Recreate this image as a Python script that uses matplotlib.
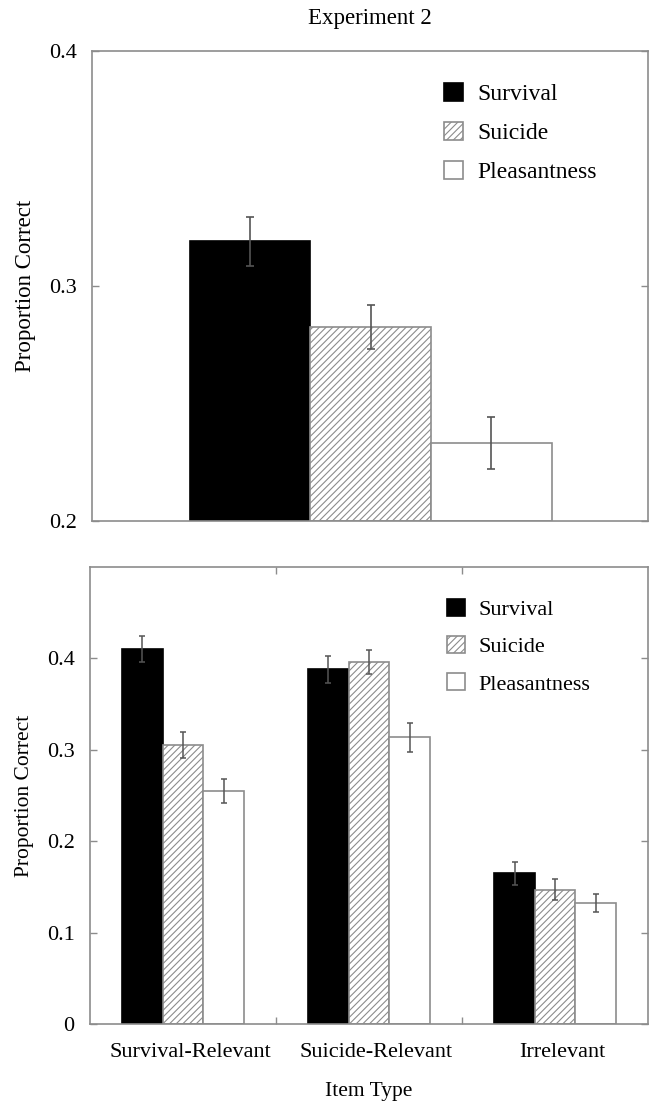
import matplotlib
matplotlib.use("Agg")
import matplotlib.pyplot as plt
import numpy as np

# ---- data ----
conditions = ["Survival", "Suicide", "Pleasantness"]
exp2_means = [0.319, 0.2826, 0.2331]
exp2_err = [0.0105, 0.0095, 0.011]

item_types = ["Survival-Relevant", "Suicide-Relevant", "Irrelevant"]
survival_means = [0.410, 0.388, 0.165]
survival_err = [0.014, 0.0145, 0.0125]
suicide_means = [0.3055, 0.396, 0.147]
suicide_err = [0.014, 0.013, 0.0115]
pleas_means = [0.255, 0.3135, 0.1326]
pleas_err = [0.0135, 0.016, 0.0098]

top_yticks = [0.2, 0.3, 0.4]
top_yticklabels = ["0.2", "0.3", "0.4"]
bot_yticks = [0, 0.1, 0.2, 0.3, 0.4]
bot_yticklabels = ["0", "0.1", "0.2", "0.3", "0.4"]

# ---- styles ----
FONT = "Liberation Serif"
plt.rcParams["font.family"] = [FONT, "DejaVu Serif"]
plt.rcParams["hatch.linewidth"] = 0.8
SPINE = "#8c8c8c"
EDGE = "#8c8c8c"
ERR = "#555555"
styles = [
    dict(facecolor="black", edgecolor="black", hatch=None),
    dict(facecolor="white", edgecolor=EDGE, hatch="/////"),
    dict(facecolor="white", edgecolor=EDGE, hatch=None),
]

fig = plt.figure(figsize=(6.52, 11.02), dpi=100)
ax1 = fig.add_axes([0.141, 0.527, 0.853, 0.427])
ax2 = fig.add_axes([0.138, 0.0708, 0.856, 0.4147])

def style_axes(ax):
    for s in ax.spines.values():
        s.set_color(SPINE)
        s.set_linewidth(1.2)
    ax.tick_params(axis="y", direction="in", length=5, width=1, color=SPINE,
                   left=True, right=True, labelsize=16, pad=11)

# ---- top panel ----
x1 = np.arange(len(conditions))
bars_top = []
for i, (m, e) in enumerate(zip(exp2_means, exp2_err)):
    st = styles[i]
    b = ax1.bar(x1[i], m - 0.2, bottom=0.2, width=1.0, facecolor=st["facecolor"],
                edgecolor=st["edgecolor"], hatch=st["hatch"], linewidth=1.2,
                label=conditions[i], zorder=2)
    ax1.errorbar(x1[i], m, yerr=e, fmt="none", ecolor=ERR, elinewidth=1.2,
                 capsize=3, capthick=1.2, zorder=3)
    bars_top.append(b)
ax1.set_xlim(-1.31, 3.30)
ax1.set_ylim(0.2, 0.4)
ax1.set_yticks(top_yticks)
ax1.set_yticklabels(top_yticklabels)
ax1.set_xticks([])
style_axes(ax1)
ax1.set_ylabel("Proportion Correct", fontsize=16.5, labelpad=9)
ax1.set_title("Experiment 2", fontsize=16.5, pad=19)
ax1.legend(handles=bars_top, loc="upper left", bbox_to_anchor=(0.633, 0.932),
           frameon=False, fontsize=17, handlelength=0.8, handleheight=0.8,
           handletextpad=0.6, labelspacing=0.72, borderaxespad=0, borderpad=0)

# ---- bottom panel ----
x2 = np.arange(len(item_types)) + 0.5
w = 0.218
series = [(survival_means, survival_err), (suicide_means, suicide_err),
          (pleas_means, pleas_err)]
bars_bot = []
for i, (means, errs) in enumerate(series):
    st = styles[i]
    pos = x2 + (i - 1) * w
    b = ax2.bar(pos, means, width=w, facecolor=st["facecolor"],
                edgecolor=st["edgecolor"], hatch=st["hatch"], linewidth=1.2,
                label=conditions[i], zorder=2)
    ax2.errorbar(pos, means, yerr=errs, fmt="none", ecolor=ERR, elinewidth=1.1,
                 capsize=2.5, capthick=1.1, zorder=3)
    bars_bot.append(b)
ax2.set_xlim(0, 3)
ax2.set_ylim(0, 0.5)
ax2.set_yticks(bot_yticks)
ax2.set_yticklabels(bot_yticklabels)
ax2.set_xticks([1, 2])
ax2.set_xticklabels([])
ax2.set_xticks(x2 + 0.04, minor=True)
ax2.set_xticklabels(item_types, minor=True)
ax2.tick_params(axis="x", which="major", direction="in", length=5, width=1,
                color=SPINE, top=True, bottom=True)
ax2.tick_params(axis="x", which="minor", length=0, labelsize=16, pad=14)
style_axes(ax2)
ax2.set_ylabel("Proportion Correct", fontsize=15.5, labelpad=9)
ax2.set_xlabel("Item Type", fontsize=15.5, labelpad=14)
ax2.legend(handles=bars_bot, loc="upper left", bbox_to_anchor=(0.64, 0.93),
           frameon=False, fontsize=16, handlelength=0.8, handleheight=0.8,
           handletextpad=0.6, labelspacing=0.72, borderaxespad=0, borderpad=0)

fig.savefig("out.png", dpi=100)
